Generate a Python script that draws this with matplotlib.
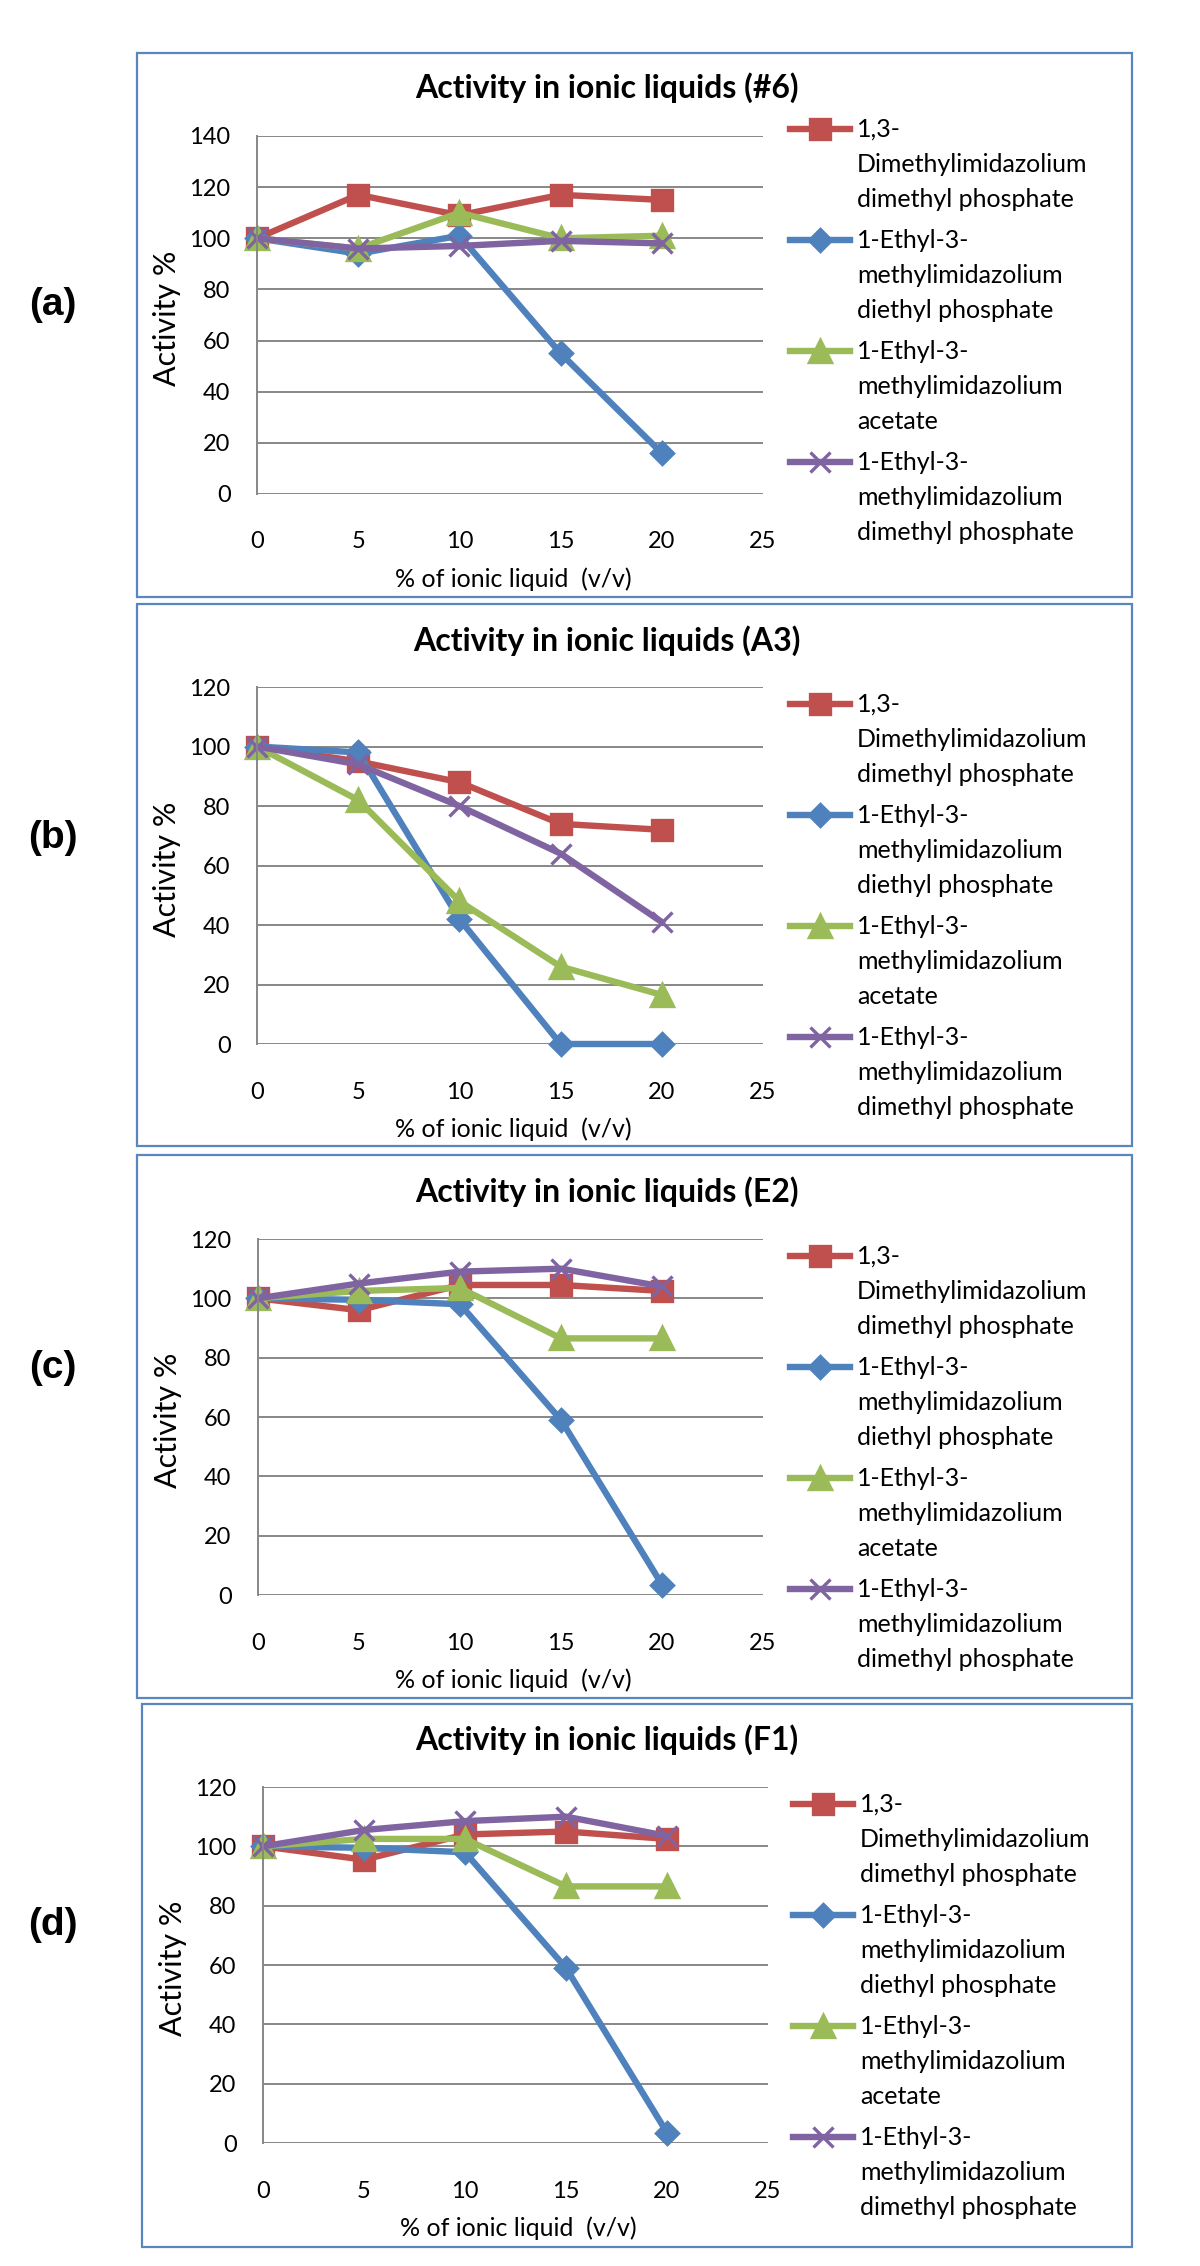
import matplotlib
matplotlib.use('Agg')
import matplotlib.pyplot as plt
from matplotlib.patches import Rectangle
from matplotlib.lines import Line2D

plt.rcParams['font.family'] = ['Lato', 'DejaVu Sans']

# x values: % of ionic liquid (v/v)
conc = [0, 5, 10, 15, 20]

series_names = [
    '1,3-\nDimethylimidazolium\ndimethyl phosphate',
    '1-Ethyl-3-\nmethylimidazolium\ndiethyl phosphate',
    '1-Ethyl-3-\nmethylimidazolium\nacetate',
    '1-Ethyl-3-\nmethylimidazolium\ndimethyl phosphate',
]
titles = ['Activity in ionic liquids (#6)', 'Activity in ionic liquids (A3)',
          'Activity in ionic liquids (E2)', 'Activity in ionic liquids (F1)']
panel_tags = ['(a)', '(b)', '(c)', '(d)']
y_tops = [140, 120, 120, 120]

# panel (a) #6
dmim_dmp_6 = [100, 117, 109, 117, 115]
emim_dep_6 = [100, 94, 101, 55, 16]
emim_ac_6 = [100, 96, 110, 100, 101]
emim_dmp_6 = [100, 96, 97, 99, 98]
# panel (b) A3
dmim_dmp_a3 = [100, 95, 88, 74, 72]
emim_dep_a3 = [100, 98, 42, 0, 0]
emim_ac_a3 = [100, 82, 48, 26, 16.5]
emim_dmp_a3 = [100, 94, 80, 64, 41]
# panel (c) E2
dmim_dmp_e2 = [100, 96, 104.5, 104.5, 102.5]
emim_dep_e2 = [100, 99.5, 98, 59, 3.5]
emim_ac_e2 = [100, 102.5, 103.5, 86.5, 86.5]
emim_dmp_e2 = [100, 105, 109, 110, 104]
# panel (d) F1
dmim_dmp_f1 = [100, 95.5, 104, 105, 102.5]
emim_dep_f1 = [100, 99.5, 98, 59, 3.5]
emim_ac_f1 = [100, 102.5, 102.5, 86.5, 86.5]
emim_dmp_f1 = [100, 105.5, 108.5, 110, 103.5]

panels = [
    [dmim_dmp_6, emim_dep_6, emim_ac_6, emim_dmp_6],
    [dmim_dmp_a3, emim_dep_a3, emim_ac_a3, emim_dmp_a3],
    [dmim_dmp_e2, emim_dep_e2, emim_ac_e2, emim_dmp_e2],
    [dmim_dmp_f1, emim_dep_f1, emim_ac_f1, emim_dmp_f1],
]

colors = ['#C0504D', '#4F81BD', '#9BBB59', '#8064A2']
markers = ['s', 'D', '^', 'x']
msizes = [14.5, 11, 15.5, 14]

W, H = 1200, 2266
fig = plt.figure(figsize=(W / 100, H / 100), dpi=100)


def fx(px):
    return px / W


def fy(py):
    return 1 - py / H


# layout in pixels
boxes = [(137, 53, 1132, 597), (137, 604, 1132, 1146),
         (137, 1155, 1132, 1698), (142, 1704, 1132, 2247)]
plots = [(257, 763, 136, 494), (257, 763, 687, 1044),
         (258, 763, 1239, 1595), (263, 768, 1787, 2143)]
title_y = [88, 641, 1192, 1740]
legend_y = [129, 704, 1256, 1804]
tag_y = [305, 838, 1368, 1925]

grid_col = '#878787'

for k in range(4):
    bx0, by0, bx1, by1 = boxes[k]
    fig.patches.append(Rectangle((fx(bx0), fy(by1)), fx(bx1) - fx(bx0), (by1 - by0) / H,
                                 transform=fig.transFigure, fill=False,
                                 edgecolor='#5A86BE', linewidth=1.6))

    x0, x1, ytop, ybot = plots[k]
    ax = fig.add_axes([fx(x0), fy(ybot), fx(x1) - fx(x0), (ybot - ytop) / H])
    for i in range(4):
        ax.plot(conc, panels[k][i], color=colors[i], marker=markers[i],
                markersize=msizes[i], linewidth=4.6, markeredgewidth=2.4,
                clip_on=False)
    ax.set_xlim(0, 25)
    ax.set_ylim(0, y_tops[k])
    ax.set_xticks(range(0, 26, 5))
    ax.set_yticks(range(0, y_tops[k] + 1, 20))
    ax.yaxis.grid(True, color=grid_col, linewidth=1.4)
    ax.set_axisbelow(True)
    for s in ['top', 'right', 'bottom']:
        ax.spines[s].set_visible(False)
    ax.spines['left'].set_color(grid_col)
    ax.spines['left'].set_linewidth(1.4)
    ax.tick_params(axis='both', length=0, labelsize=17, colors='black')
    ax.tick_params(axis='x', pad=27)
    ax.tick_params(axis='y', pad=19)
    ax.set_xlabel('% of ionic liquid  (v/v)', fontsize=18)
    ax.xaxis.set_label_coords(0.506, -0.205)
    ax.set_ylabel('Activity %', fontsize=22)
    ax.yaxis.set_label_coords(-0.150, 0.49)

    fig.text(fx(607), fy(title_y[k]), titles[k], fontsize=23, fontweight='bold',
             ha='center', va='center')
    fig.text(fx(53), fy(tag_y[k]), panel_tags[k], fontsize=28,
             fontweight='bold', family=['Liberation Sans', 'DejaVu Sans'],
             ha='center', va='center')

    # legend drawn by hand so the handle sits on the first text line
    lx = 790 if k < 3 else 793
    for i in range(4):
        ly = legend_y[k] + i * 111
        fig.lines.append(Line2D([fx(lx), fx(lx + 30), fx(lx + 60)], [fy(ly)] * 3,
                                transform=fig.transFigure, color=colors[i],
                                linewidth=4.6, marker=markers[i], markevery=[1],
                                markersize=msizes[i], markeredgewidth=2.4))
        fig.text(fx(lx + 67), fy(ly - 11), series_names[i], fontsize=18,
                 ha='left', va='top', linespacing=1.62)

fig.savefig('out.png', dpi=100)
